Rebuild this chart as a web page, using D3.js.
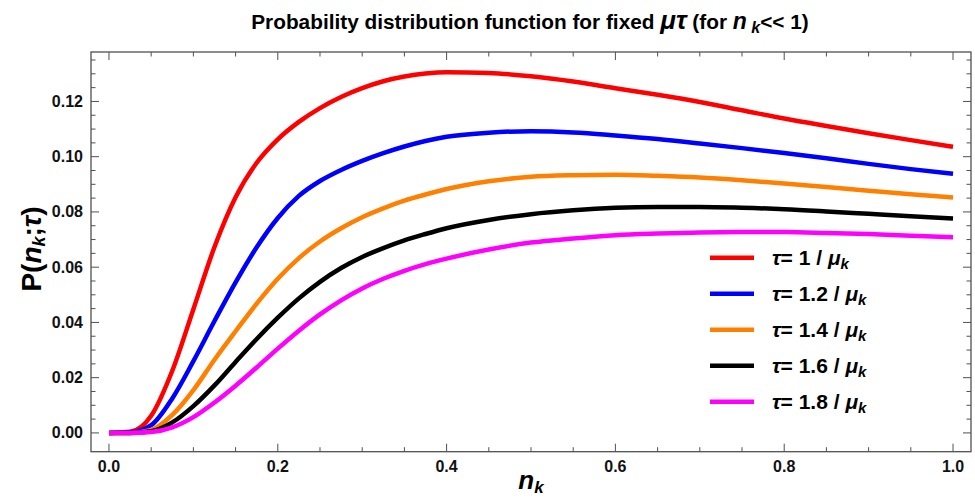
<!DOCTYPE html>
<html>
<head>
<meta charset="utf-8">
<script src="https://cdn.jsdelivr.net/npm/d3@7"></script>
<style>
  body { margin: 0; background: white; }
  svg { font-family: "Liberation Sans", Arial, sans-serif; }
  .tick-label { font-size: 16px; font-weight: bold; fill: #111; }
</style>
</head>
<body>
<div id="canvas"></div>
<script>
// DATA
const nk = [0, 0.025, 0.05, 0.075, 0.1, 0.125, 0.15, 0.175, 0.2, 0.225, 0.25, 0.275, 0.3, 0.325, 0.35, 0.375, 0.4,
            0.45, 0.5, 0.55, 0.6, 0.65, 0.7, 0.75, 0.8, 0.85, 0.9, 0.95, 1.0];

const tau10 = [0, 0.0004, 0.0062, 0.0225, 0.0448, 0.0673, 0.0853, 0.0978, 0.1063, 0.1126, 0.1176, 0.1216, 0.1248, 0.1273, 0.129, 0.1301, 0.1306,
               0.1303, 0.1291, 0.1272, 0.1248, 0.1224, 0.1198, 0.1168, 0.1138, 0.1111, 0.1085, 0.106, 0.1036];
const tau12 = [0, 0.0002, 0.0028, 0.0125, 0.026, 0.0405, 0.0545, 0.0672, 0.0778, 0.0858, 0.0912, 0.0952, 0.0985, 0.1013, 0.1037, 0.1057, 0.1072,
               0.1087, 0.1092, 0.1088, 0.1077, 0.1064, 0.1048, 0.1031, 0.1013, 0.0994, 0.0974, 0.0955, 0.0938];
const tau14 = [0, 0, 0.0011, 0.0065, 0.0155, 0.0265, 0.0368, 0.0468, 0.0558, 0.0633, 0.0693, 0.0741, 0.0781, 0.0813, 0.0841, 0.0863, 0.0883,
               0.0911, 0.0927, 0.0933, 0.0935, 0.0931, 0.0925, 0.0915, 0.0903, 0.089, 0.0877, 0.0864, 0.0852];
const tau16 = [0, 0, 0.0006, 0.0038, 0.0097, 0.0172, 0.0257, 0.034, 0.0417, 0.0487, 0.0547, 0.0597, 0.0637, 0.0669, 0.0697, 0.072, 0.0741,
               0.0771, 0.0792, 0.0806, 0.0815, 0.0818, 0.0818, 0.0815, 0.081, 0.0802, 0.0793, 0.0784, 0.0776];
const tau18 = [0, 0, 0.0003, 0.002, 0.0057, 0.011, 0.0171, 0.0237, 0.0305, 0.037, 0.0429, 0.048, 0.0523, 0.0558, 0.0587, 0.0611, 0.0631,
               0.0664, 0.0689, 0.0704, 0.0716, 0.0722, 0.0726, 0.0727, 0.0727, 0.0724, 0.072, 0.0714, 0.0708];

const tauLabels = ["1", "1.2", "1.4", "1.6", "1.8"];
const seriesValues = [tau10, tau12, tau14, tau16, tau18];
const colors = ["#ff0000", "#0000ff", "#ff8000", "#000000", "#ff00ff"];

const xTicks = [0, 0.2, 0.4, 0.6, 0.8, 1.0];
const yTicks = [0, 0.02, 0.04, 0.06, 0.08, 0.10, 0.12];

// DIMENSIONS
const width = 975;
const height = 498;
const frame = { left: 91, right: 971, top: 52, bottom: 451.7 };

const svg = d3.select("#canvas")
    .append("svg")
    .attr("width", width)
    .attr("height", height);

// SCALES
const xScale = d3.scaleLinear()
    .domain([-0.0213, 1.0213])
    .range([frame.left, frame.right]);

const yScale = d3.scaleLinear()
    .domain([-0.0068, 0.1379])
    .range([frame.bottom, frame.top]);

// LINES
const makeLine = d3.line()
    .x((d, i) => xScale(nk[i]))
    .y(d => yScale(d))
    .curve(d3.curveMonotoneX);

const plot = svg.append("g");

plot.append("defs").append("clipPath")
    .attr("id", "clip")
    .append("rect")
    .attr("x", frame.left)
    .attr("y", frame.top)
    .attr("width", frame.right - frame.left)
    .attr("height", frame.bottom - frame.top);

seriesValues.forEach((vals, i) => {
    plot.append("path")
        .attr("d", makeLine(vals))
        .attr("clip-path", "url(#clip)")
        .style("fill", "none")
        .style("stroke", colors[i])
        .style("stroke-width", 4.5)
        .style("stroke-linejoin", "round");
});

// FRAME + TICKS (ticks on all four sides, pointing inward)
const frameColor = "#505050";
const axes = svg.append("g");

const xMinor = d3.range(0, 1.0001, 0.05);
const yMinor = d3.range(0, 0.13751, 0.005);

function isMajor(v, list) { return list.some(t => Math.abs(t - v) < 1e-6); }

xMinor.forEach(v => {
    const len = isMajor(v, xTicks) ? 8 : 4.5;
    const x = xScale(v);
    axes.append("line").attr("x1", x).attr("x2", x)
        .attr("y1", frame.bottom).attr("y2", frame.bottom - len)
        .attr("stroke", frameColor);
    axes.append("line").attr("x1", x).attr("x2", x)
        .attr("y1", frame.top).attr("y2", frame.top + len)
        .attr("stroke", frameColor);
});

yMinor.forEach(v => {
    const len = isMajor(v, yTicks) ? 8 : 4.5;
    const y = yScale(v);
    axes.append("line").attr("x1", frame.left).attr("x2", frame.left + len)
        .attr("y1", y).attr("y2", y)
        .attr("stroke", frameColor);
    axes.append("line").attr("x1", frame.right).attr("x2", frame.right - len)
        .attr("y1", y).attr("y2", y)
        .attr("stroke", frameColor);
});

axes.append("rect")
    .attr("x", frame.left)
    .attr("y", frame.top)
    .attr("width", frame.right - frame.left)
    .attr("height", frame.bottom - frame.top)
    .attr("fill", "none")
    .attr("stroke", frameColor)
    .attr("stroke-width", 1.3);

// TICK LABELS
const xFmt = d3.format(".1f");
const yFmt = d3.format(".2f");

axes.selectAll(".xlab")
    .data(xTicks)
    .enter()
    .append("text")
    .attr("class", "tick-label")
    .attr("x", d => xScale(d))
    .attr("y", frame.bottom + 20.5)
    .attr("text-anchor", "middle")
    .text(d => xFmt(d));

axes.selectAll(".ylab")
    .data(yTicks)
    .enter()
    .append("text")
    .attr("class", "tick-label")
    .attr("x", frame.left - 8)
    .attr("y", d => yScale(d) + 5.5)
    .attr("text-anchor", "end")
    .text(d => yFmt(d));

// TITLE
const title = svg.append("text")
    .attr("x", 530)
    .attr("y", 29)
    .attr("text-anchor", "middle")
    .style("font-size", "20.8px")
    .style("font-weight", "bold");
title.append("tspan").text("Probability distribution function for fixed ");
title.append("tspan").style("font-style", "italic").style("font-size", "26px").text("μτ");
title.append("tspan").text(" (for ");
title.append("tspan").style("font-style", "italic").style("font-size", "23px").text("n");
title.append("tspan").style("font-style", "italic").style("font-size", "16px").attr("dy", 4).text(" k");
title.append("tspan").attr("dy", -4).text("<< 1)");

// AXIS LABELS
const xl = svg.append("text")
    .attr("x", 531)
    .attr("y", 489)
    .attr("text-anchor", "middle")
    .style("font-size", "26px")
    .style("font-weight", "bold")
    .style("font-style", "italic");
xl.append("tspan").text("n");
xl.append("tspan").style("font-size", "17px").attr("dy", 4).text("k");

const yl = svg.append("text")
    .attr("transform", "translate(41, 249) rotate(-90)")
    .attr("text-anchor", "middle")
    .style("font-size", "28px")
    .style("font-weight", "bold");
yl.append("tspan").text("P(");
yl.append("tspan").style("font-style", "italic").text("n");
yl.append("tspan").style("font-style", "italic").style("font-size", "18px").attr("dy", 4).text("k");
yl.append("tspan").attr("dy", -4).text(";");
yl.append("tspan").style("font-style", "italic").text("τ");
yl.append("tspan").text(")");

// LEGEND
const legend = svg.append("g");
tauLabels.forEach((lab, i) => {
    const y = 257.7 + i * 36;
    legend.append("line")
        .attr("x1", 710).attr("x2", 754)
        .attr("y1", y).attr("y2", y)
        .attr("stroke", colors[i])
        .attr("stroke-width", 4.5);
    const t = legend.append("text")
        .attr("x", 772)
        .attr("y", y + 7.5)
        .style("font-size", "21px")
        .style("font-weight", "bold");
    t.append("tspan").style("font-style", "italic").text("τ");
    t.append("tspan").text("= " + lab + " / ");
    t.append("tspan").style("font-style", "italic").text("μ");
    t.append("tspan").style("font-style", "italic").style("font-size", "15px").attr("dy", 4).text("k");
});
</script>
</body>
</html>
